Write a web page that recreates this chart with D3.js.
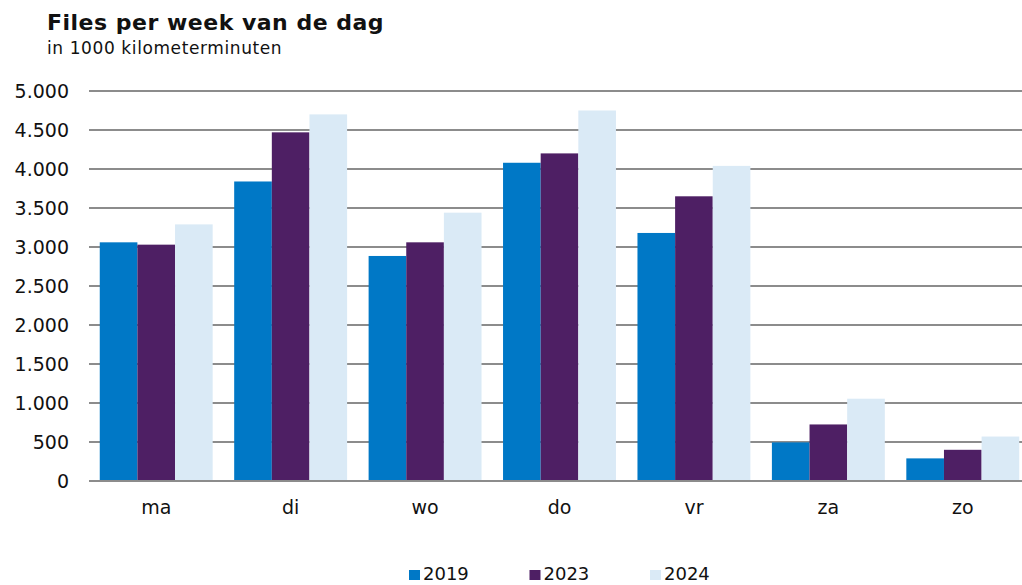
<!DOCTYPE html>
<html>
<head>
<meta charset="utf-8">
<script src="https://cdn.jsdelivr.net/npm/d3@7"></script>
<style>
  body { margin: 0; background: #fff; }
  text { font-family: Verdana, "DejaVu Sans", sans-serif; fill: #111; }
</style>
</head>
<body>
<div id="grafiek"></div>
<script>
// gegevens
var dagen = ["ma", "di", "wo", "do", "vr", "za", "zo"];
var jaren = ["2019", "2023", "2024"];
var waarden2019 = [3060, 3840, 2885, 4080, 3180, 495, 290];
var waarden2023 = [3030, 4470, 3060, 4200, 3650, 725, 400];
var waarden2024 = [3290, 4700, 3440, 4750, 4040, 1055, 570];
var yTicks = [0, 500, 1000, 1500, 2000, 2500, 3000, 3500, 4000, 4500, 5000];
var kleuren = ["#0078c6", "#4e1f64", "#daeaf6"];

var reeksen = [waarden2019, waarden2023, waarden2024];

var largeur = 1022, hauteur = 585;

var svg = d3.select("#grafiek")
    .append("svg")
        .attr("width", largeur)
        .attr("height", hauteur);

// titel
svg.append("text")
    .attr("x", 47).attr("y", 30)
    .attr("font-size", "22px")
    .attr("font-weight", "bold")
    .attr("letter-spacing", "0.5px")
    .text("Files per week van de dag");
svg.append("text")
    .attr("x", 47).attr("y", 54)
    .attr("font-size", "17px")
    .attr("letter-spacing", "0.6px")
    .text("in 1000 kilometerminuten");

// schalen
var x = d3.scaleBand()
    .domain(dagen)
    .range([89, 1030])
    .paddingInner(0.16)
    .paddingOuter(0.08);

var xJaar = d3.scaleBand()
    .domain(jaren)
    .range([0, x.bandwidth()]);

var y = d3.scaleLinear()
    .domain([0, 5000])
    .range([481, 91]);

// rasterlijnen
svg.append("g")
    .selectAll("line")
    .data(yTicks)
    .enter()
    .append("line")
        .attr("x1", 89)
        .attr("x2", largeur)
        .attr("y1", function (d) { return y(d); })
        .attr("y2", function (d) { return y(d); })
        .attr("stroke", "#8c8c8c")
        .attr("stroke-width", 2);

// y-as labels
var yAxis = svg.append("g")
    .attr("transform", "translate(85,0)")
    .call(d3.axisLeft(y)
        .tickValues(yTicks)
        .tickSize(0)
        .tickPadding(16)
        .tickFormat(function (d) { return d3.format(",")(d).replace(/,/g, "."); }));
yAxis.select(".domain").remove();
yAxis.selectAll("text")
    .attr("font-size", "19px")
    .attr("font-family", "Verdana, 'DejaVu Sans', sans-serif")
    .attr("fill", "#111");

// staven
var groep = svg.append("g")
    .selectAll("g")
    .data(dagen)
    .enter()
    .append("g")
        .attr("transform", function (d) { return "translate(" + x(d) + ",0)"; });

groep.selectAll("rect")
    .data(function (d, i) {
        return jaren.map(function (j, k) { return {jaar: j, k: k, waarde: reeksen[k][i]}; });
    })
    .enter()
    .append("rect")
        .attr("x", function (d) { return xJaar(d.jaar); })
        .attr("width", xJaar.bandwidth())
        .attr("y", function (d) { return y(d.waarde); })
        .attr("height", function (d) { return y(0) - y(d.waarde); })
        .attr("fill", function (d) { return kleuren[d.k]; });

// nullijn
svg.append("line")
    .attr("x1", 89).attr("x2", largeur)
    .attr("y1", y(0)).attr("y2", y(0))
    .attr("stroke", "#8c8c8c")
    .attr("stroke-width", 2);

// x-as labels
var xAxis = svg.append("g")
    .attr("transform", "translate(0," + y(0) + ")")
    .call(d3.axisBottom(x).tickSize(0).tickPadding(20));
xAxis.select(".domain").remove();
xAxis.selectAll("text")
    .attr("font-size", "19px")
    .attr("font-family", "Verdana, 'DejaVu Sans', sans-serif")
    .attr("fill", "#111");

// legenda
var legenda = svg.append("g")
    .selectAll("g")
    .data(jaren)
    .enter()
    .append("g")
        .attr("transform", function (d, i) { return "translate(" + (409 + i * 120.5) + ",570)"; });
legenda.append("rect")
    .attr("width", 11).attr("height", 10)
    .attr("fill", function (d, i) { return kleuren[i]; });
legenda.append("text")
    .attr("x", 14).attr("y", 10)
    .attr("font-size", "18px")
    .text(function (d) { return d; });
</script>
</body>
</html>
